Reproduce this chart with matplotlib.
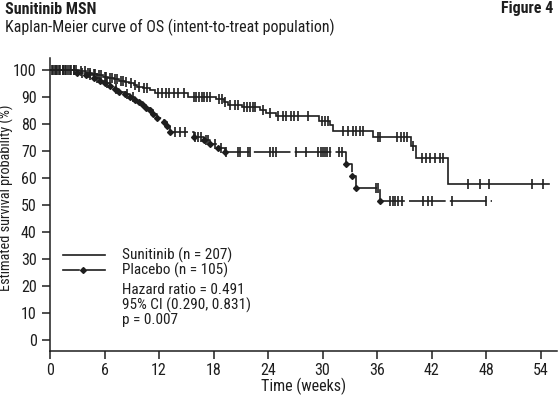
import numpy as np
import matplotlib
matplotlib.use('Agg')
import matplotlib.pyplot as plt
from matplotlib import font_manager

# ---------------- data ----------------
suni_times = [0, 3.2, 4.0, 4.6, 5.2, 5.8, 6.4, 7.0, 7.6, 8.2, 8.7, 9.2, 9.6, 10.2, 11.0, 11.6,
              15.2, 18.3, 19.1, 19.6, 21.1, 23.1, 23.8, 24.9, 29.6, 30.8, 31.2, 35.5, 39.7, 40.3, 43.8]
suni_surv = [100, 99.5, 99.0, 98.5, 98.0, 97.5, 97.0, 96.5, 96.0, 95.5, 95.0, 94.3, 93.8, 93.2, 92.4, 91.4,
             90.1, 89.1, 88.3, 87.0, 86.4, 85.2, 84.0, 83.0, 81.2, 79.6, 77.5, 75.3, 71.9, 67.3, 57.6]
suni_end = 54.9
suni_censor = [0.2, 0.5, 0.8, 1.1, 1.4, 1.7, 2.0, 2.3, 2.6, 2.9,
               3.4, 3.8, 4.2, 4.4, 4.8, 5.0, 5.4, 5.6, 6.0, 6.2, 6.6, 6.8, 7.2, 7.4, 7.8, 8.0,
               8.4, 8.9, 9.4, 9.8, 10.4, 10.7,
               11.9, 12.3, 12.8, 13.1, 13.6, 14.1, 14.7,
               15.8, 16.1, 16.4, 16.7, 17.0, 17.3, 17.6,
               18.6, 18.9, 19.3, 19.8, 20.4, 20.7, 21.4, 21.7, 22.0, 22.3, 22.6, 23.4, 24.2,
               25.1, 25.6, 26.0, 26.5, 26.9, 27.3, 28.4,
               29.9, 30.3, 30.6,
               32.3, 32.8, 33.3, 33.7, 34.1, 34.5,
               36.1, 36.3, 38.2, 38.6, 39.0, 39.3, 40.0,
               40.9, 41.4, 41.8, 42.4, 42.9, 43.3,
               46.0, 47.3, 48.3, 53.1, 54.3]

plac_times = [0, 3.0, 4.0, 4.8, 5.5, 6.0, 6.6, 7.1, 7.6, 8.2, 8.8, 9.4, 9.8, 10.2, 10.6, 11.0,
              11.3, 11.8, 12.6, 12.9, 13.2, 15.8, 16.9, 17.6, 18.5, 19.3, 32.6, 33.2, 33.7, 36.3]
plac_surv = [100, 99.0, 98.0, 97.0, 96.0, 95.0, 94.0, 93.0, 92.0, 91.0, 90.0, 89.0, 88.0, 87.0, 86.0, 85.0,
             83.6, 82.3, 80.8, 79.2, 77.2, 75.3, 74.1, 72.4, 71.1, 69.7, 65.0, 60.7, 56.2, 51.6]
plac_end = 48.7
plac_censor = [0.3, 0.7, 1.0, 1.4, 1.8, 2.2, 2.6, 3.5, 4.4, 5.2, 6.3, 7.3, 8.5, 9.1,
               13.8, 14.3, 14.9, 16.0, 16.3, 16.6, 17.2, 17.4, 18.2, 18.8,
               19.4, 20.7, 20.9, 21.8, 22.0, 24.2, 24.5, 24.9, 27.1, 28.2,
               29.5, 29.8, 30.0, 30.3, 30.5, 30.8, 31.8, 32.1,
               35.9, 36.1,
               37.4, 37.7, 38.0, 38.3, 38.7, 41.1, 41.6, 42.0, 44.2, 48.0]

x_ticks = [0, 6, 12, 18, 24, 30, 36, 42, 48, 54]
y_ticks = [0, 10, 20, 30, 40, 50, 60, 70, 80, 90, 100]

legend_labels = ['Sunitinib (n = 207)', 'Placebo (n = 105)']
stats_lines = ['Hazard ratio = 0.491', '95% CI (0.290, 0.831)', 'p = 0.007']

# ---------------- style ----------------
avail = {f.name for f in font_manager.fontManager.ttflist}
fam = [f for f in ['Liberation Sans Narrow', 'Roboto Condensed', 'Liberation Sans'] if f in avail]
plt.rcParams['font.family'] = fam + ['DejaVu Sans']
INK = '#1e1e1e'
FS = 11.5
FSL = 11
W, H = 559, 399

fig = plt.figure(figsize=(W / 100, H / 100), dpi=100)


def fx(px):
    return px / W


def fy(py):
    return 1 - py / H


ax = fig.add_axes([fx(50), fy(351), fx(557) - fx(50), fy(58) - fy(351)])
ax.set_xlim(0, 55.8)
ax.set_ylim(-4, 104.4)
for s in ['top', 'right']:
    ax.spines[s].set_visible(False)
for s in ['left', 'bottom']:
    ax.spines[s].set_color(INK)
    ax.spines[s].set_linewidth(1.1)
ax.set_xticks(x_ticks)
ax.set_yticks(y_ticks)
ax.tick_params(axis='both', colors=INK, labelsize=FS, length=5.5, width=1.1, direction='out')
ax.tick_params(axis='y', pad=4)
ax.tick_params(axis='x', pad=3)
ax.set_xlabel('Time (weeks)', fontsize=FS, color=INK, labelpad=0)
ax.set_ylabel('Estimated survival probability (%)', fontsize=10.3, color=INK)
ax.yaxis.set_label_coords((14 - 50) / 507, 0.522)


def step_value(times, surv, t):
    idx = np.searchsorted(np.asarray(times), np.asarray(t), side='right') - 1
    return np.asarray(surv)[idx]


# Sunitinib
sx = suni_times + [suni_end]
sy = suni_surv + [suni_surv[-1]]
ax.step(sx, sy, where='post', color=INK, lw=1.2, solid_joinstyle='miter')
ax.plot(suni_censor, step_value(suni_times, suni_surv, suni_censor), linestyle='none',
        marker='|', ms=7.5, mew=1.2, color=INK)

# Placebo
px_ = plac_times + [plac_end]
py_ = plac_surv + [plac_surv[-1]]
ax.step(px_, py_, where='post', color=INK, lw=1.2, linestyle=(0, (22, 2.5)))
ax.plot(plac_times[1:], plac_surv[1:], linestyle='none', marker='D', ms=3, color=INK)
ax.plot(plac_censor, step_value(plac_times, plac_surv, plac_censor), linestyle='none',
        marker='|', ms=7.5, mew=1.2, color=INK)

# legend (manual)
fig.add_artist(plt.Line2D([fx(63), fx(105)], [fy(255), fy(255)], color=INK, lw=1.2))
fig.add_artist(plt.Line2D([fx(63), fx(79)], [fy(270), fy(270)], color=INK, lw=1.2))
fig.add_artist(plt.Line2D([fx(87), fx(105)], [fy(270), fy(270)], color=INK, lw=1.2))
fig.add_artist(plt.Line2D([fx(83)], [fy(270)], marker='D', ms=3, color=INK, lw=0))
fig.text(fx(122), fy(255), legend_labels[0], fontsize=FSL, color=INK, va='center')
fig.text(fx(122), fy(270), legend_labels[1], fontsize=FSL, color=INK, va='center')
for i, line in enumerate(stats_lines):
    fig.text(fx(122), fy(290 + 15 * i), line, fontsize=FSL, color=INK, va='center')

# titles
fig.text(fx(5), fy(9), 'Sunitinib MSN', fontsize=FS, fontweight='bold', color=INK, va='center')
fig.text(fx(553), fy(9), 'Figure 4', fontsize=FS, fontweight='bold', color=INK, va='center', ha='right')
fig.text(fx(5), fy(27), 'Kaplan-Meier curve of OS (intent-to-treat population)', fontsize=FS,
         color=INK, va='center')

fig.savefig('out.png', dpi=100)
